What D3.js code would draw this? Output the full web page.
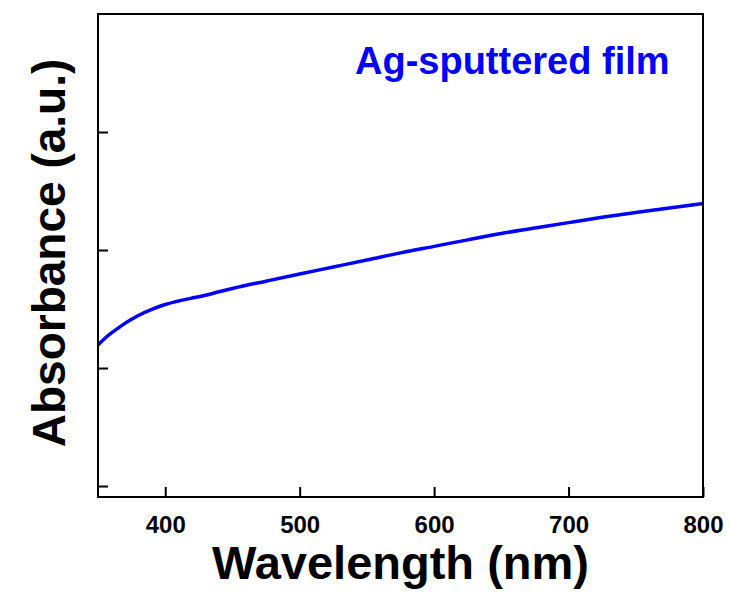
<!DOCTYPE html>
<html>
<head>
<meta charset="utf-8">
<script src="https://cdn.jsdelivr.net/npm/d3@7"></script>
<style>
  body { margin: 0; background: #fff; }
  text { font-family: "Liberation Sans", Arial, sans-serif; font-weight: bold; }
</style>
</head>
<body>
<div id="chart"></div>
<script>
// wavelength (nm) and absorbance (a.u.)
var wavelength = [350, 355, 360, 365, 370, 375, 380, 390, 400, 410, 420, 430, 440, 450,
    475, 500, 525, 550, 575, 600, 625, 650, 675, 700, 725, 750, 775, 800];
var absorbance = [1.195, 1.25, 1.297, 1.338, 1.378, 1.413, 1.445, 1.497, 1.538, 1.568, 1.593, 1.616, 1.646, 1.674,
    1.736, 1.797, 1.856, 1.915, 1.976, 2.031, 2.086, 2.14, 2.186, 2.232, 2.277, 2.317, 2.356, 2.393];
var xTicks = [400, 500, 600, 700, 800];
var yTicks = [0, 1, 2, 3];
var seriesName = "Ag-sputtered film";

function init() {
    var W = 729, H = 616;
    var margin = {top: 14, left: 98, right: 26, bottom: 119};
    var w = W - margin.left - margin.right;
    var h = H - margin.top - margin.bottom;

    var svg = d3.select("#chart")
        .append("svg")
        .attr("width", W)
        .attr("height", H);

    var g = svg.append("g")
        .attr("transform", "translate(" + margin.left + "," + margin.top + ")");

    var x = d3.scaleLinear().domain([350, 800]).range([0, w]);
    var y = d3.scaleLinear().domain([-0.093, 4.0]).range([h, 0]);

    var data = wavelength.map(function (d, i) {
        return {x: d, y: absorbance[i]};
    });

    // x axis, ticks pointing inward
    var xAxis = g.append("g")
        .attr("transform", "translate(0," + h + ")")
        .call(d3.axisBottom(x).tickValues(xTicks).tickSize(-10).tickPadding(19));
    xAxis.select(".domain").remove();
    xAxis.selectAll("line").attr("stroke", "#000").attr("stroke-width", 2);
    xAxis.selectAll("text")
        .attr("fill", "#000")
        .style("font-size", "24px");

    var yAxis = g.append("g")
        .call(d3.axisLeft(y).tickValues(yTicks).tickSize(-10).tickFormat(""));
    yAxis.select(".domain").remove();
    yAxis.selectAll("line").attr("stroke", "#000").attr("stroke-width", 2);

    var line = d3.line()
        .x(function (d) { return x(d.x); })
        .y(function (d) { return y(d.y); })
        .curve(d3.curveMonotoneX);

    g.append("path")
        .datum(data)
        .attr("d", line)
        .attr("fill", "none")
        .attr("stroke", "#0000ff")
        .attr("stroke-width", 3.5);

    // frame
    g.append("rect")
        .attr("width", w)
        .attr("height", h)
        .attr("fill", "none")
        .attr("stroke", "#000")
        .attr("stroke-width", 2);

    g.append("text")
        .attr("x", 257)
        .attr("y", 60)
        .attr("fill", "#0000ff")
        .style("font-size", "38px")
        .text(seriesName);

    svg.append("text")
        .attr("x", margin.left + w / 2)
        .attr("y", 579)
        .attr("text-anchor", "middle")
        .attr("fill", "#000")
        .style("font-size", "47px")
        .text("Wavelength (nm)");

    svg.append("text")
        .attr("transform", "translate(65," + 253 + ") rotate(-90)")
        .attr("text-anchor", "middle")
        .attr("fill", "#000")
        .style("font-size", "46px")
        .text("Absorbance (a.u.)");
}
window.onload = init;
</script>
</body>
</html>
